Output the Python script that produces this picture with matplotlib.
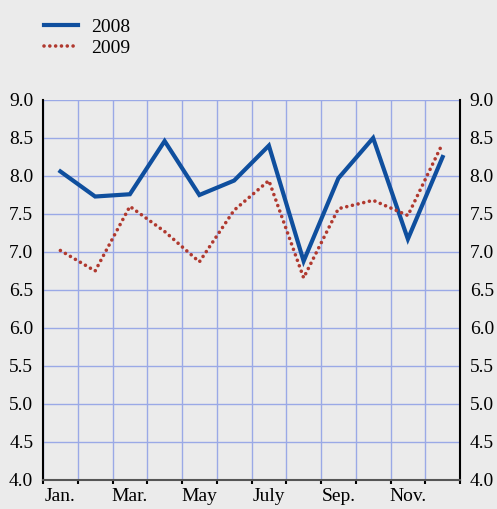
import numpy as np
import matplotlib.pyplot as plt

# monthly values
months = np.arange(1, 13)
vals_2008 = [8.06, 7.73, 7.76, 8.46, 7.75, 7.94, 8.40, 6.88, 7.97, 8.50, 7.17, 8.25]
vals_2009 = [7.02, 6.75, 7.60, 7.27, 6.87, 7.55, 7.94, 6.66, 7.57, 7.68, 7.48, 8.43]
tick_pos = [1, 3, 5, 7, 9, 11]
tick_labels = ['Jan.', 'Mar.', 'May', 'July', 'Sep.', 'Nov.']
yticks = np.arange(4.0, 9.01, 0.5)

bg = '#ebebeb'
grid_c = '#9aa9e6'
blue = '#0f4f9e'
red = '#b0392f'

plt.rcParams['font.family'] = 'Liberation Serif'

fig = plt.figure(figsize=(4.97, 5.09), dpi=100, facecolor=bg)
ax = fig.add_axes([43/497, 29/509, 417/497, 380/509], facecolor=bg)

l1, = ax.plot(months, vals_2008, color=blue, lw=3, solid_joinstyle='miter', zorder=3)
l2, = ax.plot(months, vals_2009, color=red, lw=2.6, linestyle=(0, (0.01, 1.6)),
              dash_capstyle='round', zorder=3)

ax.set_xlim(0.5, 12.5)
ax.set_ylim(4.0, 9.0)

# grid at month boundaries and every 0.5
ax.set_xticks(np.arange(0.5, 12.6, 1), minor=True)
ax.set_xticks(tick_pos)
ax.set_xticklabels(tick_labels, fontsize=14)
ax.set_yticks(yticks)
ax.set_yticklabels([f'{v:.1f}' for v in yticks], fontsize=14)
ax.grid(True, which='minor', axis='x', color=grid_c, lw=1)
ax.grid(True, which='major', axis='y', color=grid_c, lw=1)
ax.set_axisbelow(True)

ax.tick_params(axis='x', which='major', length=0, pad=6)
ax.tick_params(axis='x', which='minor', length=3, width=1.5, color='black', direction='out')
ax.tick_params(axis='y', length=0, pad=7, labelright=True, labelleft=True)

ax.spines['top'].set_visible(False)
ax.spines['bottom'].set_color('#555555')
ax.spines['bottom'].set_linewidth(1.5)
ax.spines['left'].set_color('black')
ax.spines['left'].set_linewidth(1.5)
ax.spines['right'].set_color('black')
ax.spines['right'].set_linewidth(1.5)

fig.legend([l1, l2], ['2008', '2009'], loc='upper left', bbox_to_anchor=(0.055, 0.997),
           frameon=False, fontsize=14, handlelength=1.75, handletextpad=0.7,
           labelspacing=0.2, borderpad=0.35)

fig.savefig('out.png', dpi=100, facecolor=bg)
